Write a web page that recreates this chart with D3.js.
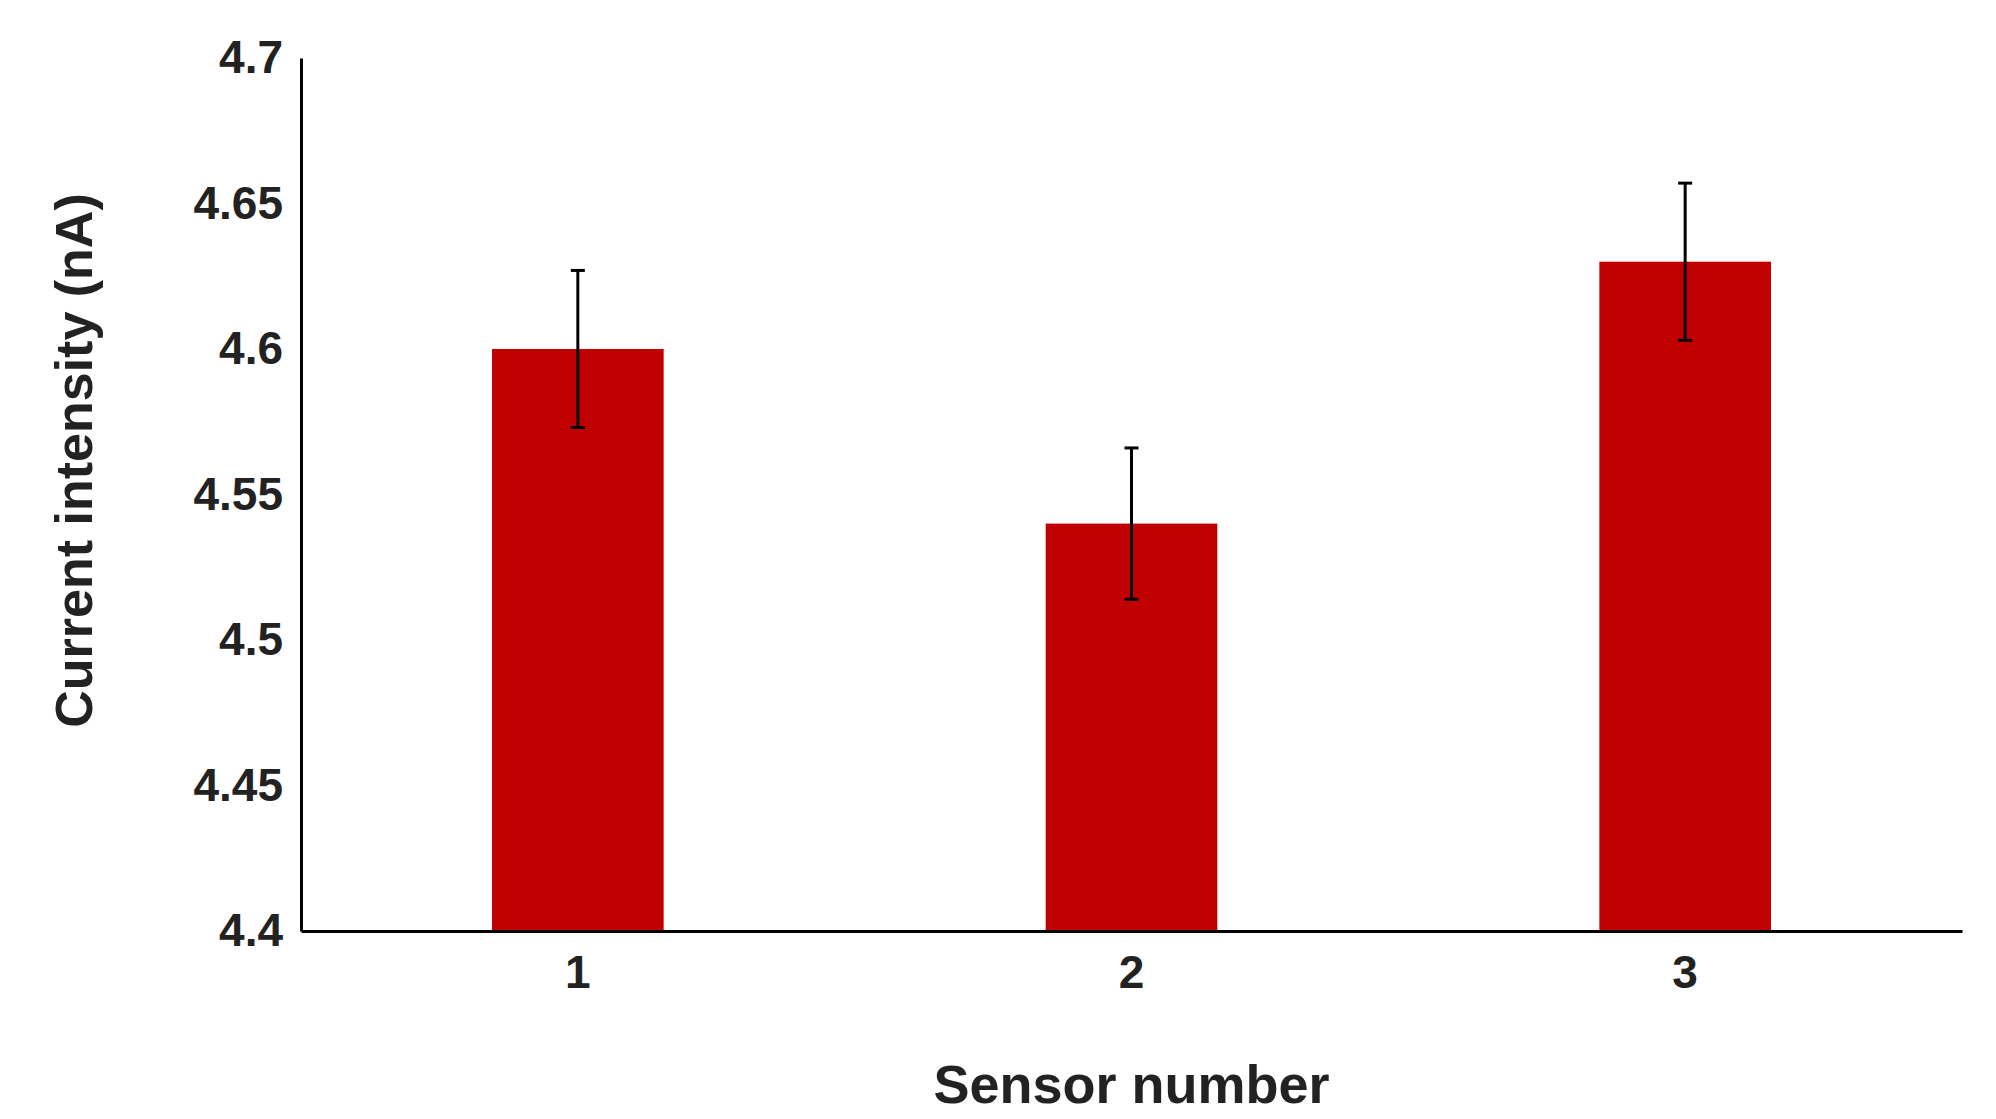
<!DOCTYPE html>
<html>
<head>
<meta charset="utf-8">
<script src="https://cdn.jsdelivr.net/npm/d3@7"></script>
<style>
  body { margin: 0; background: #fff; }
  text { font-family: "Liberation Sans", Arial, sans-serif; font-weight: bold; fill: #222; }
</style>
</head>
<body>
<div class="canvas"></div>
<script>
const categories = ['1', '2', '3'];
const values = [4.60, 4.54, 4.63];
const errors = [0.027, 0.026, 0.027];
const yTicks = [4.4, 4.45, 4.5, 4.55, 4.6, 4.65, 4.7];

const dims = { width: 1996, height: 1119, left: 301, right: 34, top: 58, bottom: 188 };
const w = dims.width - dims.left - dims.right;
const h = dims.height - dims.top - dims.bottom;

const svg = d3.select('.canvas').append('svg')
    .attr('width', dims.width)
    .attr('height', dims.height);

const g = svg.append('g')
    .attr('transform', `translate(${dims.left}, ${dims.top})`);

const x = d3.scaleBand().domain(categories).range([0, w]).paddingInner(0.69).paddingOuter(0.345);
const y = d3.scaleLinear().domain([4.4, 4.7]).range([h, 0]);

// Bars
g.selectAll('rect.bar').data(values).enter().append('rect')
    .attr('class', 'bar')
    .attr('x', (d, i) => x(categories[i]))
    .attr('y', d => y(d))
    .attr('width', x.bandwidth())
    .attr('height', d => h - y(d))
    .attr('fill', '#c00000');

// Error bars
const err = g.selectAll('g.err').data(values).enter().append('g')
    .attr('class', 'err')
    .attr('transform', (d, i) => `translate(${x(categories[i]) + x.bandwidth() / 2}, 0)`);
err.append('line')
    .attr('y1', (d, i) => y(d + errors[i]))
    .attr('y2', (d, i) => y(d - errors[i]))
    .attr('stroke', '#000').attr('stroke-width', 3);
err.append('line')
    .attr('x1', -7).attr('x2', 7)
    .attr('y1', (d, i) => y(d + errors[i])).attr('y2', (d, i) => y(d + errors[i]))
    .attr('stroke', '#000').attr('stroke-width', 3);
err.append('line')
    .attr('x1', -7).attr('x2', 7)
    .attr('y1', (d, i) => y(d - errors[i])).attr('y2', (d, i) => y(d - errors[i]))
    .attr('stroke', '#000').attr('stroke-width', 3);

// Axes
const yAxis = g.append('g')
    .call(d3.axisLeft(y).tickValues(yTicks).tickSize(0).tickPadding(18).tickFormat(d => String(+d.toFixed(2))));
yAxis.select('.domain').attr('stroke', '#000').attr('stroke-width', 3);
yAxis.selectAll('text').style('font-size', '46px');

const xAxis = g.append('g')
    .attr('transform', `translate(0, ${h})`)
    .call(d3.axisBottom(x).tickSize(0).tickPadding(24));
xAxis.select('.domain').attr('stroke', '#000').attr('stroke-width', 3);
xAxis.selectAll('text').style('font-size', '46px');

// Titles
svg.append('text')
    .attr('x', dims.left + w / 2)
    .attr('y', 1103)
    .attr('text-anchor', 'middle')
    .style('font-size', '54px')
    .text('Sensor number');

svg.append('text')
    .attr('transform', `translate(92, ${(142 + 779) / 2}) rotate(-90)`)
    .attr('text-anchor', 'middle')
    .style('font-size', '52px')
    .text('Current intensity (nA)');
</script>
</body>
</html>
